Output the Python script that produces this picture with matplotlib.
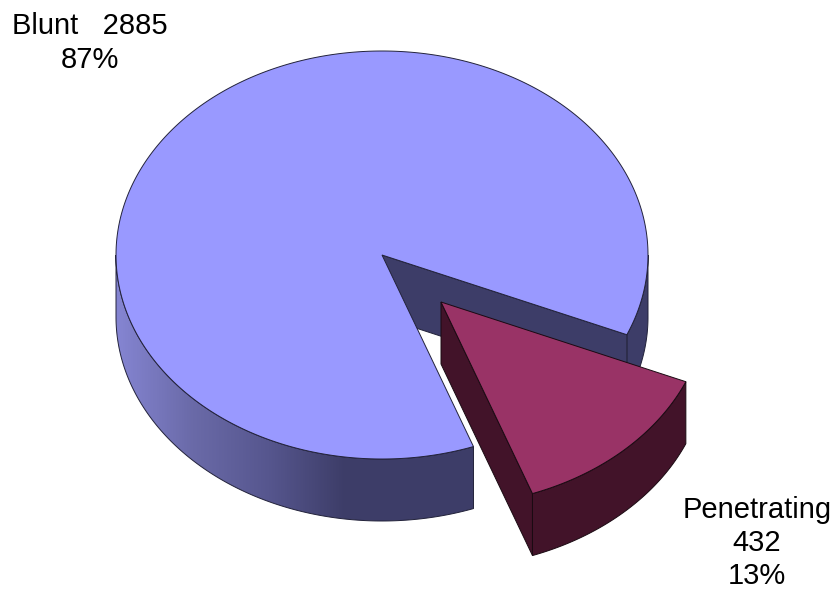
import numpy as np
import matplotlib
matplotlib.use('Agg')
import matplotlib.pyplot as plt
from matplotlib.patches import Polygon
from matplotlib.colors import LinearSegmentedColormap

plt.rcParams['font.family'] = ['Liberation Sans', 'DejaVu Sans']

categories = ['Blunt', 'Penetrating']
counts = [2885, 432]
percents = ['87%', '13%']

# pie geometry, in pixels of the picture
cx, cy = 382, 255
rx, ry = 266, 204
depth = 62
start_angle = -23
explode = (59, 47)

top_blue = '#9999ff'
dark_blue = '#3d3d68'
top_red = '#993366'
dark_red = '#421329'
edge = '#22223a'


def arc(a1, a2, dx=0, dy=0, n=200):
    t = np.radians(np.linspace(a1, a2, n))
    return np.column_stack([cx + dx + rx * np.cos(t), cy + dy - ry * np.sin(t)])


sweep = 360 * counts[1] / sum(counts)
red_a1 = start_angle - sweep
red_a2 = start_angle
blue_a1 = start_angle
blue_a2 = red_a1 + 360

fig = plt.figure(figsize=(8.37, 5.9), dpi=100)
ax = fig.add_axes([0, 0, 1, 1])
ax.set_xlim(0, 837)
ax.set_ylim(590, 0)
ax.axis('off')

# blunt: outer wall, right part
side = arc(red_a2, 0)
wall = np.vstack([side, (side + [0, depth])[::-1]])
ax.add_patch(Polygon(wall, closed=True, fc=dark_blue, ec=edge, lw=0.7))

# blunt: outer wall, lower part with the shading running left to right
side = arc(180, red_a1 + 360)
wall = np.vstack([side, (side + [0, depth])[::-1]])
shade = LinearSegmentedColormap.from_list('shade', ['#8585d2', '#6a6aa8', '#56568e', dark_blue])
grad = np.interp(np.arange(116, 480), [116, 345, 480], [0, 1, 1]).reshape(1, -1)
im = ax.imshow(grad, cmap=shade, extent=(116, 480, 530, 240), aspect='auto', zorder=1)
outline = Polygon(wall, closed=True, fc='none', ec=edge, lw=0.7, zorder=2)
ax.add_patch(outline)
im.set_clip_path(outline)
ax.set_xlim(0, 837)
ax.set_ylim(590, 0)

# blunt: the cut face seen behind the exploded slice
rim = arc(red_a2, red_a2, n=1)[0]
cut = [(cx, cy), rim, rim + [0, depth], (cx, cy + depth)]
ax.add_patch(Polygon(cut, closed=True, fc=dark_blue, ec=edge, lw=0.7, zorder=3))

# blunt: top
top = np.vstack([[(cx, cy)], arc(blue_a1, blue_a2, n=500)])
ax.add_patch(Polygon(top, closed=True, fc=top_blue, ec=edge, lw=0.7, zorder=4))

# penetrating: walls then top
dx, dy = explode
apex = np.array([cx + dx, cy + dy])
low = arc(red_a1, red_a1, dx, dy, n=1)[0]
side = arc(red_a1, red_a2, dx, dy)
face = [apex, low, low + [0, depth], apex + [0, depth]]
ax.add_patch(Polygon(face, closed=True, fc=dark_red, ec='#1a0a12', lw=0.7, zorder=5))
wall = np.vstack([side, (side + [0, depth])[::-1]])
ax.add_patch(Polygon(wall, closed=True, fc=dark_red, ec='#1a0a12', lw=0.7, zorder=5))
top = np.vstack([[apex], side])
ax.add_patch(Polygon(top, closed=True, fc=top_red, ec='#1a0a12', lw=0.7, zorder=6))

ax.text(89.5, 43, f'{categories[0]}   {counts[0]}\n{percents[0]}', ha='center', va='center',
        fontsize=21, color='black', linespacing=1.25)
ax.text(757, 543, f'{categories[1]}\n{counts[1]}\n{percents[1]}', ha='center', va='center',
        fontsize=21, color='black', linespacing=1.25)

plt.savefig('out.png', dpi=100)
